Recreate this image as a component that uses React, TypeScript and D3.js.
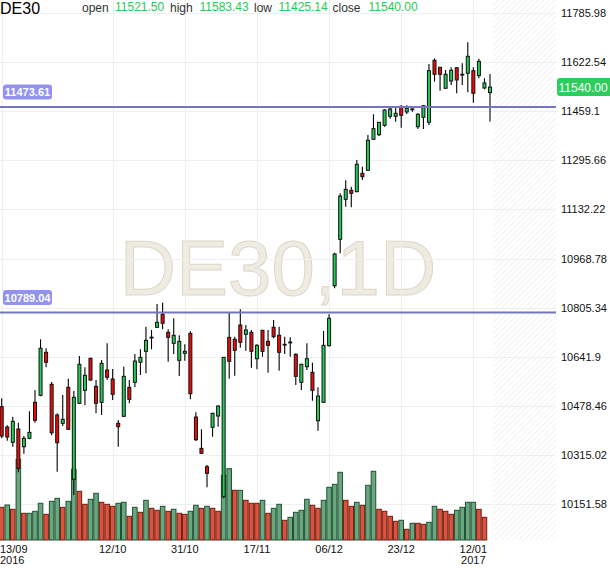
import React from 'react';
import * as d3 from 'd3';

const symbol = 'DE30';
const timeframe = '1D';

const opens = [
  10475.3, 10407.6, 10356.7, 10401.0, 10342.0, 10370.0, 10489.9, 10513.2, 10656.5, 10549.9,
  10447.6, 10420.0, 10539.9, 10233.4, 10486.6, 10529.9, 10636.5, 10543.2, 10489.9, 10597.5,
  10567.5, 10420.0, 10443.3, 10539.9, 10556.5, 10623.2, 10659.8, 10705.5, 10739.7, 10783.1,
  10723.1, 10686.5, 10629.8, 10653.1, 10719.8, 10440.9, 10336.7, 10275.4, 10406.6, 10444.3,
  10175.4, 10706.4, 10699.8, 10747.4, 10716.4, 10723.1, 10635.2, 10729.8, 10693.1, 10739.7,
  10713.1, 10683.1, 10690.6, 10649.8, 10556.5, 10608.5, 10589.8, 10428.6, 10489.9, 10678.5,
  10878.3, 11032.9, 11166.1, 11196.1, 11191.5, 11252.7, 11262.7, 11366.0, 11381.3, 11412.6,
  11442.6, 11442.6, 11475.9, 11457.0, 11467.0, 11407.9, 11439.3, 11422.6, 11629.2, 11605.9,
  11535.9, 11560.2, 11604.5, 11582.5, 11585.9, 11594.5, 11577.9, 11536.9, 11521.5,
];
const highs = [
  10503.2, 10413.3, 10441.9, 10422.0, 10377.6, 10459.9, 10530.9, 10699.8, 10669.8, 10557.5,
  10453.3, 10514.2, 10568.5, 10527.5, 10644.2, 10606.5, 10638.0, 10564.2, 10630.8, 10686.5,
  10600.8, 10430.9, 10608.5, 10564.2, 10650.8, 10666.5, 10741.8, 10730.8, 10817.4, 10821.7,
  10733.1, 10769.7, 10713.1, 10683.1, 10726.4, 10456.6, 10400.0, 10281.0, 10455.0, 10479.9,
  10641.0, 10789.7, 10708.5, 10799.7, 10747.4, 10730.8, 10683.1, 10731.0, 10730.8, 10764.1,
  10741.8, 10708.5, 10706.4, 10653.1, 10618.0, 10686.5, 10621.8, 10539.9, 10727.4, 10783.1,
  10988.3, 11186.1, 11229.4, 11208.1, 11297.0, 11274.7, 11380.3, 11449.3, 11424.0, 11466.0,
  11476.9, 11474.6, 11479.3, 11479.3, 11475.9, 11452.6, 11480.0, 11616.8, 11635.9, 11607.0,
  11596.9, 11605.9, 11606.0, 11619.2, 11689.1, 11605.9, 11634.5, 11569.2, 11583.43,
];
const lows = [
  10370.0, 10362.0, 10342.0, 10256.7, 10318.7, 10366.6, 10422.0, 10510.0, 10606.5, 10380.0,
  10258.7, 10411.0, 10398.0, 10181.1, 10484.0, 10479.9, 10562.0, 10453.3, 10447.6, 10564.2,
  10497.5, 10342.0, 10441.0, 10486.6, 10539.9, 10580.9, 10586.5, 10666.5, 10738.0, 10733.1,
  10625.2, 10650.8, 10577.5, 10628.5, 10499.9, 10361.0, 10318.0, 10206.7, 10375.3, 10408.6,
  10170.1, 10568.5, 10578.5, 10671.8, 10661.8, 10605.2, 10599.8, 10641.8, 10588.5, 10703.1,
  10595.2, 10650.8, 10641.8, 10547.5, 10530.9, 10597.5, 10495.2, 10395.3, 10488.0, 10676.0,
  10869.7, 10986.2, 11141.5, 11139.5, 11190.0, 11230.4, 11261.0, 11364.0, 11377.0, 11407.9,
  11434.6, 11424.6, 11404.6, 11450.3, 11458.0, 11400.3, 11400.3, 11413.6, 11557.9, 11527.9,
  11534.0, 11546.9, 11519.3, 11546.9, 11522.6, 11487.9, 11569.2, 11532.6, 11425.14,
];
const closes = [
  10377.6, 10374.3, 10426.6, 10270.0, 10370.0, 10389.9, 10430.0, 10669.8, 10623.2, 10388.6,
  10355.3, 10433.3, 10400.0, 10506.6, 10616.5, 10579.8, 10564.2, 10486.6, 10619.8, 10573.2,
  10516.6, 10408.6, 10576.5, 10499.9, 10627.5, 10639.8, 10696.5, 10706.9, 10756.4, 10753.1,
  10706.4, 10713.1, 10693.1, 10659.8, 10518.6, 10365.3, 10320.0, 10253.4, 10453.3, 10477.6,
  10639.8, 10626.5, 10663.1, 10689.8, 10730.8, 10659.8, 10679.8, 10659.8, 10679.8, 10708.5,
  10656.5, 10683.1, 10688.0, 10576.5, 10616.5, 10635.2, 10529.9, 10510.9, 10679.8, 10769.7,
  10983.9, 11177.1, 11199.4, 11186.1, 11282.7, 11241.4, 11362.7, 11401.3, 11422.6, 11463.6,
  11466.9, 11452.6, 11446.0, 11469.3, 11467.0, 11449.3, 11477.9, 11594.5, 11582.5, 11582.5,
  11582.5, 11595.9, 11563.6, 11582.5, 11642.5, 11519.3, 11625.8, 11553.6, 11540.0,
];

// volume (thousands of lots) and its bar colour (1 = up, 0 = down)
const volumes = [
  32.7, 35.0, 30.7, 80.7, 26.7, 26.7, 28.7, 36.7, 25.7, 38.7,
  41.7, 32.7, 38.7, 70.7, 48.7, 35.7, 40.7, 46.7, 37.7, 35.7,
  33.7, 36.7, 37.7, 23.7, 32.7, 27.7, 39.7, 31.7, 29.7, 33.7,
  28.7, 30.7, 26.7, 25.7, 28.7, 34.7, 31.7, 33.7, 31.7, 28.7,
  64.7, 71.3, 49.7, 49.7, 39.7, 36.7, 36.7, 39.7, 26.7, 31.7,
  35.7, 19.7, 22.7, 27.7, 29.7, 40.7, 34.7, 31.7, 39.7, 52.7,
  55.7, 67.7, 39.7, 33.7, 37.7, 34.7, 54.7, 68.7, 30.7, 28.7,
  23.7, 18.7, 19.7, 10.7, 16.7, 16.7, 15.7, 17.7, 33.7, 30.7,
  28.7, 25.7, 29.7, 32.7, 37.7, 37.7, 30.7, 22.7,
];
const volumeUp = [
  0, 1, 0, 1, 0, 1, 1, 1, 0, 1,
  1, 0, 1, 1, 0, 0, 1, 1, 0, 0,
  0, 1, 1, 0, 1, 0, 1, 0, 0, 1,
  0, 1, 0, 0, 1, 1, 0, 1, 0, 0,
  1, 1, 0, 1, 0, 0, 0, 1, 0, 1,
  1, 0, 1, 1, 1, 1, 0, 0, 1, 1,
  1, 1, 0, 0, 1, 0, 1, 1, 0, 0,
  0, 0, 1, 0, 1, 0, 0, 1, 1, 0,
  0, 0, 1, 1, 1, 1, 0, 0,
];

const tickIndex = [0, 20, 33, 46, 59, 72, 85];
const tickDates = ['13/09', '12/10', '31/10', '17/11', '06/12', '23/12', '12/01'];
const tickYears = ['2016', '', '', '', '', '', '2017'];

const priceTicks = [
  11785.98, 11622.54, 11459.1, 11295.66, 11132.22, 10968.78, 10805.34, 10641.9, 10478.46,
  10315.02, 10151.58,
];
const levels = [11473.61, 10789.04];

const FONT = "'Liberation Sans', Arial, sans-serif";
const W = 610;
const H = 568;
const plotRight = 556;
const plotBottom = 540;

export default function App() {
  const n = opens.length;
  const x = d3.scaleLinear().domain([0, n - 1]).range([1.7, 490]);
  const step = x(1) - x(0);
  const y = d3.scaleLinear().domain([10151.58, 11785.98]).range([503.9, 13.2]);
  const vy = d3.scaleLinear().domain([0, 100]).range([plotBottom, plotBottom - 100]);
  const last = n - 1;
  const fmt = d3.format('.2f');

  const upFill = '#22cc55';
  const downFill = '#ee0a0a';

  return (
    <div style={{ position: 'absolute', left: 0, top: 0, width: W, height: H }}>
      <svg width={W} height={H} style={{ display: 'block', background: '#fff' }} fontFamily={FONT}>
        <defs>
          <pattern id="hatch" patternUnits="userSpaceOnUse" width={4} height={4} patternTransform="rotate(45)">
            <line x1={0} y1={0} x2={0} y2={4} stroke="#e9e9e9" strokeWidth={1.2} />
          </pattern>
        </defs>
        <rect x={0} y={0} width={W} height={H} fill="#fff" />

        {/* future hatched zone */}
        <rect
          x={x(last) + step * 0.55}
          y={0}
          width={plotRight - (x(last) + step * 0.55)}
          height={plotBottom}
          fill="url(#hatch)"
        />

        {/* watermark */}
        <text
          x={plotRight / 2}
          y={295}
          textAnchor="middle"
          fontSize={78}
          fill="#eeebe1"
          stroke="#dcd7c8"
          strokeWidth={1}
        >
          {symbol},{timeframe}
        </text>

        {/* grid */}
        {priceTicks.map((p) => (
          <line key={'h' + p} x1={0} x2={plotRight} y1={Math.round(y(p)) + 0.5} y2={Math.round(y(p)) + 0.5} stroke="#efefef" strokeWidth={1} />
        ))}
        {tickIndex.map((i) => (
          <line key={'v' + i} x1={Math.round(x(i)) + 0.5} x2={Math.round(x(i)) + 0.5} y1={0} y2={plotBottom} stroke="#efefef" strokeWidth={1} />
        ))}

        {/* volume */}
        {volumes.map((v, i) => (
          <rect
            key={'vol' + i}
            x={x(i) - step / 2 + 0.5}
            y={vy(v)}
            width={step - 1}
            height={plotBottom - vy(v)}
            fill={volumeUp[i] ? '#6aa77f' : '#d9533f'}
            stroke={volumeUp[i] ? '#1f5132' : '#6e1c12'}
            strokeWidth={1}
          />
        ))}

        {/* candles */}
        {opens.map((o, i) => {
          const c = closes[i];
          const cx = x(i);
          const top = y(Math.max(o, c));
          const bot = y(Math.min(o, c));
          const up = c >= o;
          return (
            <g key={'c' + i}>
              <line x1={cx} x2={cx} y1={y(highs[i])} y2={y(lows[i])} stroke="#000" strokeWidth={1.1} />
              <rect
                x={cx - 1.5}
                y={top}
                width={3}
                height={Math.max(bot - top, 0.8)}
                fill={up ? upFill : downFill}
                stroke="#111"
                strokeWidth={1}
              />
            </g>
          );
        })}

        {/* horizontal levels */}
        {levels.map((l) => (
          <g key={'lv' + l}>
            <line x1={0} x2={plotRight} y1={y(l)} y2={y(l)} stroke="#7676c0" strokeWidth={2} />
            <rect x={3} y={y(l) - 22.5} width={49} height={15} rx={3} fill="#9393ee" />
            <text x={27.5} y={y(l) - 11} textAnchor="middle" fontSize={11} fontWeight="bold" fill="#fff">
              {fmt(l)}
            </text>
          </g>
        ))}

        {/* right price axis */}
        {priceTicks.map((p) => (
          <text key={'pt' + p} x={561} y={y(p) + 4} fontSize={11} fill="#111">
            {String(p)}
          </text>
        ))}
        <rect x={557} y={y(closes[last]) - 9} width={60} height={18} rx={3} fill="#2dcc5c" />
        <text x={558.5} y={y(closes[last]) + 4.5} fontSize={12} fill="#fff">
          {fmt(closes[last])}
        </text>

        {/* date axis */}
        {tickIndex.map((i, k) => (
          <g key={'dt' + i}>
            <text
              x={k === 0 ? 0 : x(i)}
              y={553}
              textAnchor={k === 0 ? 'start' : 'middle'}
              fontSize={11}
              fill="#111"
            >
              {tickDates[k]}
            </text>
            {tickYears[k] && (
              <text
                x={k === 0 ? 0 : x(i)}
                y={564}
                textAnchor={k === 0 ? 'start' : 'middle'}
                fontSize={11}
                fill="#111"
              >
                {tickYears[k]}
              </text>
            )}
          </g>
        ))}

        {/* header */}
        <text x={0} y={14} fontSize={16} fill="#000">{symbol}</text>
        <text x={82} y={12} fontSize={12} fill="#333">open</text>
        <text x={115} y={11} fontSize={12} fill="#22cc55">{fmt(opens[last])}</text>
        <text x={170} y={12} fontSize={12} fill="#333">high</text>
        <text x={199.5} y={11} fontSize={12} fill="#22cc55">{fmt(highs[last])}</text>
        <text x={254} y={12} fontSize={12} fill="#333">low</text>
        <text x={278.5} y={11} fontSize={12} fill="#22cc55">{fmt(lows[last])}</text>
        <text x={332.5} y={12} fontSize={12} fill="#333">close</text>
        <text x={368.5} y={11} fontSize={12} fill="#22cc55">{fmt(closes[last])}</text>
      </svg>
    </div>
  );
}
